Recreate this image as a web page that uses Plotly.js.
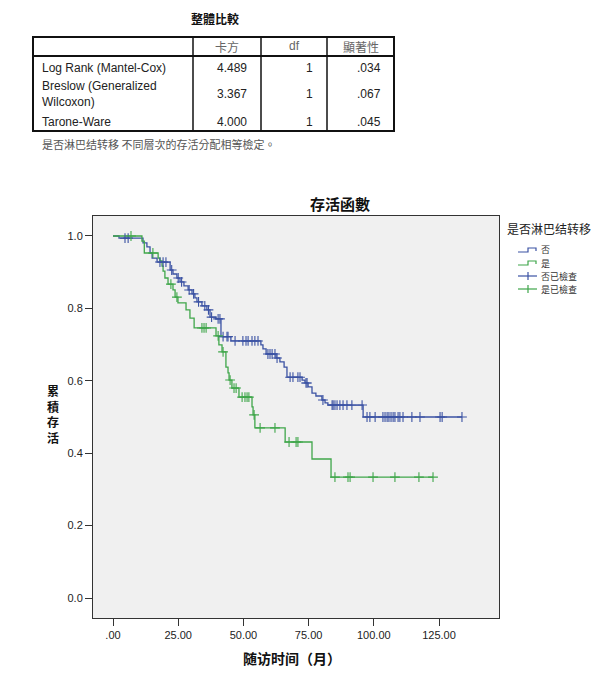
<!DOCTYPE html>
<html>
<head>
<meta charset="utf-8">
<script src="https://cdn.plot.ly/plotly-3.0.1.min.js"></script>
<style>html,body{margin:0;padding:0;background:#fff;}#chart{width:607px;height:680px;}</style>
</head>
<body>
<div id="chart"></div>
<script>
// ---------- Table data ----------
const tableTitle = '整體比較';
const tableHeaders = ['卡方', 'df', '顯著性'];
const testNames = ['Log Rank (Mantel-Cox)', 'Breslow (Generalized<br>Wilcoxon)', 'Tarone-Ware'];
const chiSquare = ['4.489', '3.367', '4.000'];
const dfValues = ['1', '1', '1'];
const sigValues = ['.034', '.067', '.045'];
const tableNote = '是否淋巴结转移 不同層次的存活分配相等檢定。';

// ---------- Survival data ----------
const groupNames = ['否', '是'];
const censorNames = ['否已檢查', '是已檢查'];
// 否 (no metastasis)
const noEventTimes = [2.3, 11.5, 13.0, 14.2, 15.0, 16.9, 21.9, 23.0, 24.5, 25.7, 27.2, 28.8, 30.3, 31.4, 32.2, 34.1, 36.0, 37.2, 39.5, 41.4, 45.2, 56.7, 57.5, 58.7, 62.5, 64.0, 65.6, 66.7, 72.5, 73.6, 74.8, 76.3, 77.8, 80.1, 81.3, 82.4, 95.9];
const noSurvival   = [0.994, 0.981, 0.970, 0.953, 0.939, 0.928, 0.906, 0.895, 0.884, 0.873, 0.862, 0.851, 0.840, 0.829, 0.818, 0.807, 0.796, 0.776, 0.771, 0.722, 0.710, 0.699, 0.688, 0.674, 0.663, 0.652, 0.638, 0.610, 0.602, 0.594, 0.583, 0.566, 0.558, 0.547, 0.539, 0.533, 0.500];
const noCensorTimes = [4.6, 5.8, 18.0, 19.2, 20.3, 22.5, 25.0, 26.3, 29.2, 30.9, 32.8, 35.2, 36.6, 37.8, 40.3, 41.0, 42.2, 43.7, 44.1, 46.8, 49.8, 51.0, 51.8, 53.3, 54.4, 55.6, 59.4, 60.2, 61.0, 62.1, 62.9, 67.9, 69.0, 70.9, 71.7, 74.0, 74.4, 80.5, 84.0, 84.4, 85.1, 85.9, 87.0, 88.2, 89.7, 91.6, 95.5, 97.4, 98.5, 100.5, 103.5, 104.3, 105.1, 105.8, 106.6, 107.4, 108.1, 109.3, 110.0, 111.2, 114.6, 117.7, 125.4, 126.2, 133.8];
// 是 (metastasis)
const yesEventTimes = [11.1, 12.0, 17.3, 18.0, 18.8, 19.2, 19.9, 21.1, 23.0, 23.8, 24.9, 28.0, 29.5, 31.1, 39.5, 40.6, 41.8, 43.3, 44.1, 44.5, 45.6, 48.3, 53.3, 53.7, 54.4, 66.0, 76.3, 83.6];
const yesSurvival   = [0.986, 0.953, 0.939, 0.931, 0.917, 0.903, 0.884, 0.867, 0.851, 0.831, 0.815, 0.796, 0.773, 0.746, 0.724, 0.699, 0.680, 0.638, 0.622, 0.602, 0.580, 0.555, 0.528, 0.506, 0.470, 0.431, 0.384, 0.334];
const yesCensorTimes = [6.9, 15.3, 22.2, 24.5, 34.1, 34.9, 35.7, 40.3, 42.2, 44.9, 46.4, 47.2, 49.5, 50.6, 51.4, 52.1, 54.1, 56.4, 62.1, 67.5, 70.2, 70.9, 85.1, 90.1, 90.9, 99.7, 108.1, 117.3, 122.7];

// ---------- Axes ----------
const xTickVals = [0, 25, 50, 75, 100, 125];
const xTickText = ['.00', '25.00', '50.00', '75.00', '100.00', '125.00'];
const yTickVals = [0, 0.2, 0.4, 0.6, 0.8, 1.0];
const yTickText = ['0.0', '0.2', '0.4', '0.6', '0.8', '1.0'];
const chartTitle = '存活函數';
const xTitle = '随访时间（月）';
const yTitle = '累積存活';
const legendTitle = '是否淋巴结转移';

const BLUE = '#3b52a3';
const GREEN = '#3fa64a';

// plot-area pixel box
const L = 93, R = 499, T = 216, B = 618;
const W = 607, H = 680;
const px = v => (v - L) / (R - L);
const py = v => (B - v) / (B - T);

function stepAt(times, surv, t) {
  let s = 1;
  for (let i = 0; i < times.length; i++) { if (times[i] <= t) s = surv[i]; }
  return s;
}
function curve(times, surv, censors) {
  const end = Math.max(...censors, ...times);
  const x = [0].concat(times, [end]);
  const y = [1].concat(surv, [surv[surv.length - 1]]);
  return {x, y};
}

const noC = curve(noEventTimes, noSurvival, noCensorTimes);
const yesC = curve(yesEventTimes, yesSurvival, yesCensorTimes);

const traces = [
  {x: noC.x, y: noC.y, mode: 'lines', line: {shape: 'hv', color: BLUE, width: 1.3}, name: groupNames[0], showlegend: false},
  {x: yesC.x, y: yesC.y, mode: 'lines', line: {shape: 'hv', color: GREEN, width: 1.3}, name: groupNames[1], showlegend: false},
  {x: noCensorTimes, y: noCensorTimes.map(t => stepAt(noEventTimes, noSurvival, t)), mode: 'markers',
   marker: {symbol: 'cross-thin', size: 7, line: {color: BLUE, width: 1.1}}, name: censorNames[0], showlegend: false},
  {x: yesCensorTimes, y: yesCensorTimes.map(t => stepAt(yesEventTimes, yesSurvival, t)), mode: 'markers',
   marker: {symbol: 'cross-thin', size: 7, line: {color: GREEN, width: 1.1}}, name: censorNames[1], showlegend: false}
];

const shapes = [];
const annotations = [];
const ann = (x, y, text, opts) => annotations.push(Object.assign({
  xref: 'paper', yref: 'paper', x: px(x), y: py(y), text: text, showarrow: false,
  xanchor: 'left', yanchor: 'middle', font: {family: 'Liberation Sans, Arial', size: 12, color: '#222'}
}, opts || {}));

// ---- Table ----
const tL = 33, tR = 394, tT = 37, tHB = 56, tB = 131;
const colX = [193, 261, 327];
shapes.push({type: 'rect', xref: 'paper', yref: 'paper', x0: px(tL), x1: px(tR), y0: py(tT), y1: py(tB), line: {color: '#111', width: 2}});
shapes.push({type: 'line', xref: 'paper', yref: 'paper', x0: px(tL), x1: px(tR), y0: py(tHB), y1: py(tHB), line: {color: '#111', width: 2}});
colX.forEach(c => shapes.push({type: 'line', xref: 'paper', yref: 'paper', x0: px(c), x1: px(c), y0: py(tT), y1: py(tB), line: {color: '#111', width: 1.5}}));

ann(215, 19, '<b>' + tableTitle + '</b>', {xanchor: 'center', font: {family: 'Noto Sans CJK TC', size: 12, color: '#111'}});
const headerCenters = [227, 294, 361];
tableHeaders.forEach((h, i) => ann(headerCenters[i], 46, h, {xanchor: 'center',
  font: {family: i === 1 ? 'Liberation Sans, Arial' : 'Noto Sans CJK TC', size: 12, color: '#666'}}));
const rowY = [68, 94, 122];
const colRight = [249, 315, 383];
testNames.forEach((n, i) => {
  ann(40, rowY[i], n, {align: 'left'});
  ann(colRight[0], rowY[i], chiSquare[i], {xanchor: 'right'});
  ann(colRight[1], rowY[i], dfValues[i], {xanchor: 'right'});
  ann(colRight[2], rowY[i], sigValues[i], {xanchor: 'right'});
});
ann(40, 144, tableNote, {font: {family: 'Noto Sans CJK TC', size: 11, color: '#555'}});

// ---- Chart titles ----
ann(340, 203, '<b>' + chartTitle + '</b>', {xanchor: 'center', font: {family: 'Noto Sans CJK TC', size: 15, color: '#111'}});
ann(292, 658, '<b>' + xTitle + '</b>', {xanchor: 'center', font: {family: 'Noto Sans CJK SC', size: 14, color: '#111'}});
ann(53, 414, '<b>' + yTitle.split('').join('<br>') + '</b>', {xanchor: 'center',
  font: {family: 'Noto Sans CJK TC', size: 12, color: '#111'}});

// ---- Manual legend ----
ann(505, 228, legendTitle, {font: {family: 'Noto Sans CJK SC', size: 12, color: '#222'}});
const legY = [250, 263, 276, 289];
const legLabels = [groupNames[0], groupNames[1], censorNames[0], censorNames[1]];
const legColors = [BLUE, GREEN, BLUE, GREEN];
legLabels.forEach((lab, i) => {
  const y = legY[i];
  if (i < 2) {
    shapes.push({type: 'path', xref: 'paper', yref: 'paper',
      path: `M${px(518)},${py(y + 2)} L${px(528)},${py(y + 2)} L${px(528)},${py(y - 2)} L${px(536)},${py(y - 2)} L${px(536)},${py(y + 1)}`,
      line: {color: legColors[i], width: 1.2}});
  } else {
    shapes.push({type: 'line', xref: 'paper', yref: 'paper', x0: px(518), x1: px(537), y0: py(y), y1: py(y), line: {color: legColors[i], width: 1.2}});
    shapes.push({type: 'line', xref: 'paper', yref: 'paper', x0: px(528), x1: px(528), y0: py(y - 4), y1: py(y + 4), line: {color: legColors[i], width: 1.2}});
  }
  ann(539, y, lab, {font: {family: 'Noto Sans CJK TC', size: 9, color: '#333'}});
});

const layout = {
  width: W, height: H,
  margin: {l: L, r: W - R, t: T, b: H - B, pad: 0},
  paper_bgcolor: '#ffffff',
  plot_bgcolor: '#f0f0f0',
  showlegend: false,
  xaxis: {
    range: [-7.67, 148.0], tickvals: xTickVals, ticktext: xTickText,
    showgrid: false, zeroline: false, showline: true, mirror: true, linecolor: '#333', linewidth: 1,
    ticks: 'outside', ticklen: 7, tickcolor: '#333', tickwidth: 1,
    tickfont: {family: 'Liberation Sans, Arial', size: 11, color: '#222'}
  },
  yaxis: {
    range: [-0.0552, 1.0552], tickvals: yTickVals, ticktext: yTickText,
    showgrid: false, zeroline: false, showline: true, mirror: true, linecolor: '#333', linewidth: 1,
    ticks: 'outside', ticklen: 7, tickcolor: '#333', tickwidth: 1,
    tickfont: {family: 'Liberation Sans, Arial', size: 11, color: '#222'}
  },
  shapes: shapes,
  annotations: annotations
};

Plotly.newPlot('chart', traces, layout, {displayModeBar: false, staticPlot: true});
</script>
</body>
</html>
